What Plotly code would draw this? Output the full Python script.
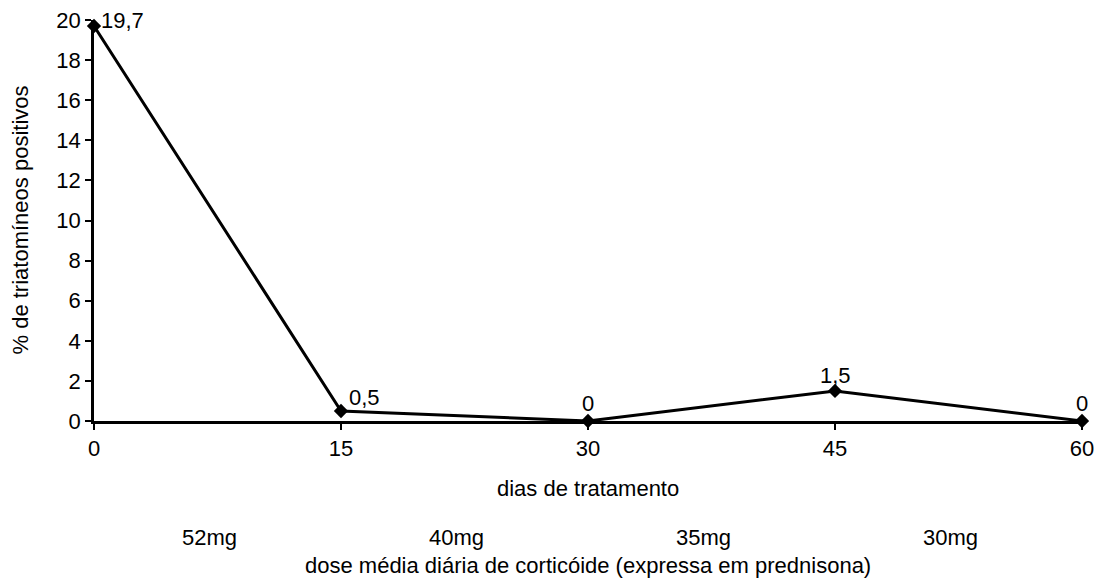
import plotly.graph_objects as go

days = [0, 15, 30, 45, 60]
pct_positive = [19.7, 0.5, 0, 1.5, 0]
dose_labels = ["52mg", "40mg", "35mg", "30mg"]
dose_positions = [7.5, 22.5, 37.5, 52.5]

# label placement style per point: (xanchor, xshift, yshift)
label_style = [("left", 5, 6), ("left", 6, 13), ("center", 0, 18), ("center", 0, 15), ("center", 0, 18)]

def fmt(v):
    return ("%g" % v).replace(".", ",")

FONT = "Liberation Sans, Arial, Helvetica, sans-serif"
FS = 22

fig = go.Figure()
fig.add_trace(go.Scatter(
    x=days, y=pct_positive,
    mode="lines+markers",
    line=dict(color="black", width=3),
    marker=dict(symbol="diamond", size=11, color="black"),
    cliponaxis=False,
    showlegend=False,
))

for xv, yv, (xa, xs, ys) in zip(days, pct_positive, label_style):
    fig.add_annotation(x=xv, y=yv, xref="x", yref="y", xanchor=xa, yanchor="middle",
                       xshift=xs, yshift=ys, text=fmt(yv), showarrow=False,
                       font=dict(family=FONT, size=FS, color="black"))

for pos, lab in zip(dose_positions, dose_labels):
    fig.add_annotation(x=pos, y=0, xref="x", yref="paper", yanchor="middle",
                       yshift=-116, xshift=-8,
                       text=lab, showarrow=False,
                       font=dict(family=FONT, size=FS, color="black"))

fig.add_annotation(x=0.5, y=0, xref="paper", yref="paper", yanchor="middle", yshift=-67,
                   text="dias de tratamento", showarrow=False,
                   font=dict(family=FONT, size=FS, color="black"))

fig.add_annotation(x=0.5, y=0, xref="paper", yref="paper", yanchor="middle", yshift=-144,
                   text="dose média diária de corticóide (expressa em prednisona)",
                   showarrow=False, font=dict(family=FONT, size=FS, color="black"))

fig.add_annotation(x=0, y=0.5, xref="paper", yref="paper", xanchor="center", yanchor="middle",
                   xshift=-74, textangle=-90,
                   text="% de triatomíneos positivos", showarrow=False,
                   font=dict(family=FONT, size=FS, color="black"))

fig.update_layout(
    width=1097, height=575,
    margin=dict(l=86, r=23, t=12, b=162),
    paper_bgcolor="white", plot_bgcolor="white",
    font=dict(family=FONT, size=FS, color="black"),
    xaxis=dict(range=[0, 60], tickvals=days, showgrid=False, zeroline=False,
               showline=True, linecolor="black", linewidth=2.5,
               ticks="outside", ticklen=6, tickwidth=2, tickcolor="black",
               tickfont=dict(family=FONT, size=FS), automargin=False,
               ticklabeloverflow="allow"),
    yaxis=dict(range=[0, 20], tickvals=list(range(0, 21, 2)), showgrid=False, zeroline=False,
               showline=True, linecolor="black", linewidth=2.5,
               ticks="outside", ticklen=6, tickwidth=2, tickcolor="black",
               tickfont=dict(family=FONT, size=FS), automargin=False,
               ticklabeloverflow="allow"),
)

fig.write_html("out.html")
